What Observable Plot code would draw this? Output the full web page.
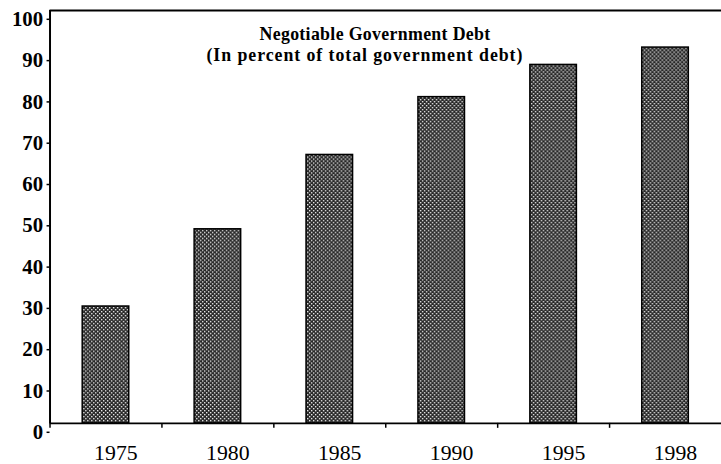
<!DOCTYPE html>
<html>
<head>
<meta charset="utf-8">
<script src="https://cdn.jsdelivr.net/npm/d3@7"></script>
<script src="https://cdn.jsdelivr.net/npm/@observablehq/plot@0.6"></script>
<style>
  html, body { margin: 0; padding: 0; background: white; overflow: hidden; }
</style>
</head>
<body>
<div id="chart"></div>
<script>
const years = ["1975", "1980", "1985", "1990", "1995", "1998"];
const values = [28.3, 47, 65, 79, 86.8, 91];
const yTicks = [0, 10, 20, 30, 40, 50, 60, 70, 80, 90, 100];
const titleLines = ["Negotiable Government Debt", "(In percent of total government debt)"];

const data = years.map((year, i) => ({year, value: values[i]}));

const plot = Plot.plot({
  width: 728,
  height: 464,
  marginLeft: 50,
  marginRight: 0,
  marginTop: 10,
  marginBottom: 37,
  style: {fontFamily: "'Liberation Serif', 'Times New Roman', serif", background: "white", color: "black", overflow: "visible"},
  x: {domain: years, paddingInner: 0.58, paddingOuter: 0.29, axis: null},
  y: {domain: [0, 100], axis: null},
  marks: [
    Plot.barY(data, {x: "year", y: "value", fill: "url(#hatch)", stroke: "black", strokeWidth: 1.5}),
    Plot.ruleY([0, 100], {stroke: "black", strokeWidth: 2}),
    Plot.ruleX(years.slice(0, 1), {x: d => d, dx: -56.5, y1: 0, y2: 100, stroke: "black", strokeWidth: 2}),
    Plot.ruleX(years, {x: d => d, dx: -56.5, y1: 0, y2: 0, insetBottom: -5, stroke: "black", strokeWidth: 1.5}),
    Plot.axisY({ticks: yTicks, tickSize: 3, tickPadding: 4, fontSize: 21, fontWeight: "bold", dy: 9, strokeWidth: 1.5, label: null}),
    Plot.axisX({tickSize: 0, tickPadding: 21, fontSize: 22, dx: 10, label: null})
  ]
});

const svg = d3.select(plot);
const defs = svg.insert("defs", ":first-child");
const pat = defs.append("pattern")
  .attr("id", "hatch")
  .attr("patternUnits", "userSpaceOnUse")
  .attr("width", 4).attr("height", 4);
pat.append("rect").attr("width", 4).attr("height", 4).attr("fill", "#262626");
pat.append("rect").attr("x", 0).attr("y", 0).attr("width", 1.4).attr("height", 1.4).attr("fill", "#eeeeee");
pat.append("rect").attr("x", 2).attr("y", 2).attr("width", 1.4).attr("height", 1.4).attr("fill", "#eeeeee");

const titleSpecs = [
  {text: titleLines[0], cx: 378.5, y: 40, len: 233},
  {text: titleLines[1], cx: 368, y: 62, len: 319}
];
for (const t of titleSpecs) {
  svg.append("text")
    .attr("x", t.cx).attr("y", t.y)
    .attr("text-anchor", "middle")
    .attr("font-family", "'Liberation Serif', 'Times New Roman', serif")
    .attr("font-size", 18)
    .attr("font-weight", "bold")
    .attr("textLength", t.len)
    .attr("lengthAdjust", "spacing")
    .attr("fill", "black")
    .text(t.text);
}

document.getElementById("chart").appendChild(plot);
</script>
</body>
</html>
